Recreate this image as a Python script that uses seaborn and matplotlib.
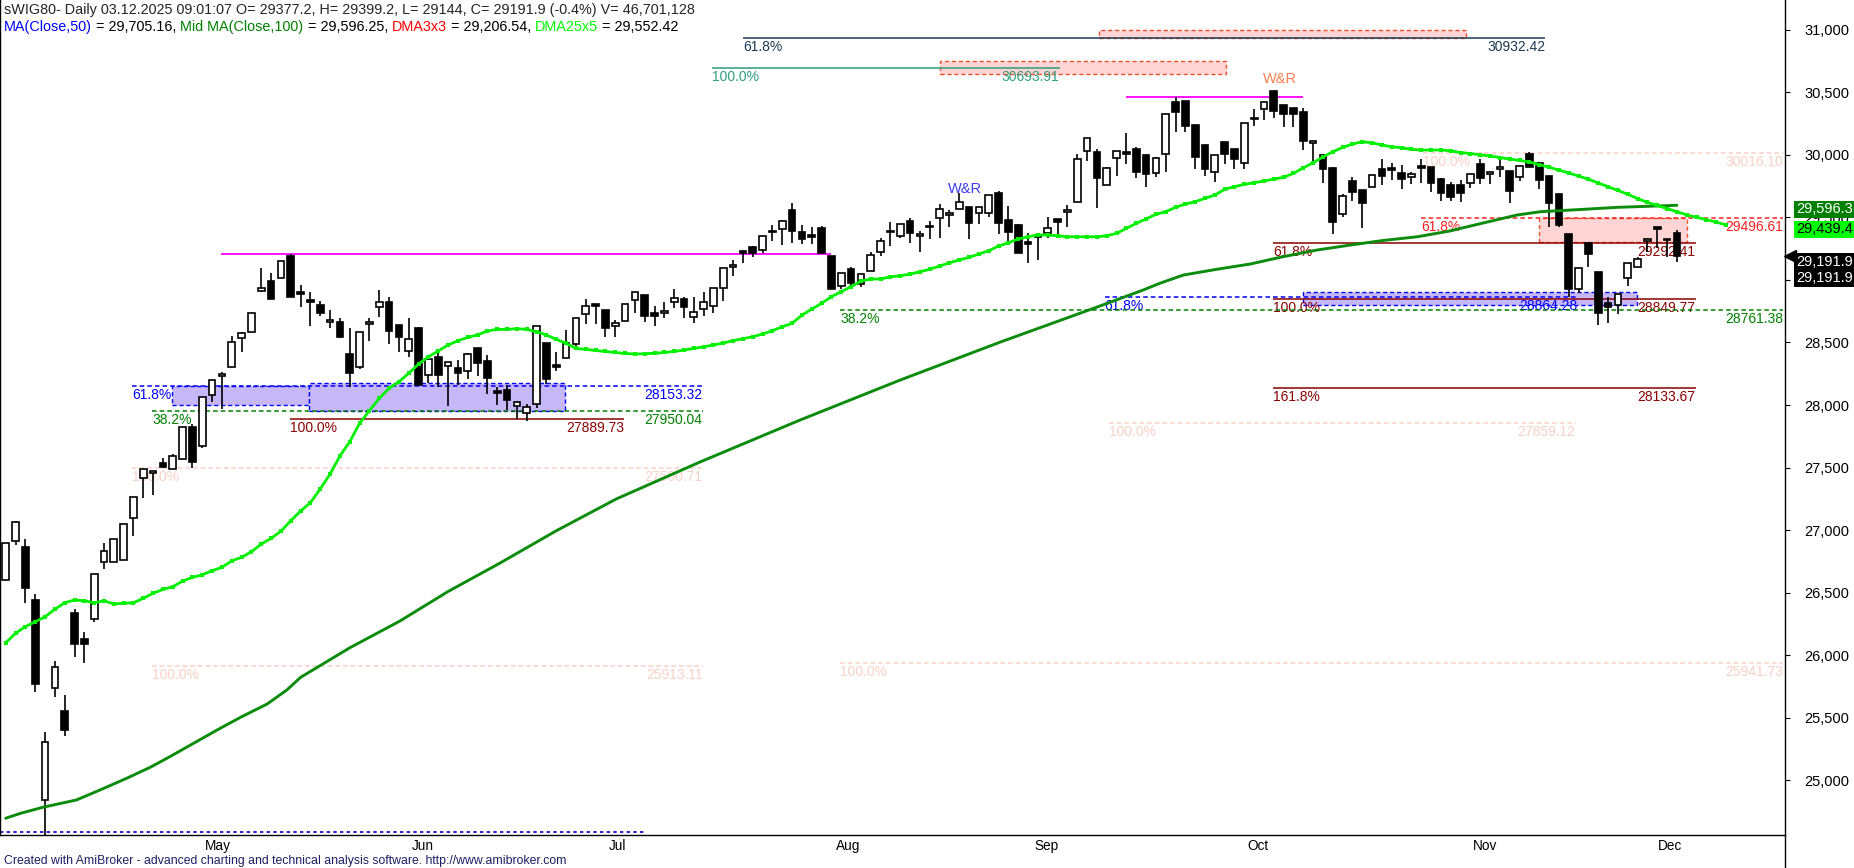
import numpy as np
import pandas as pd
import matplotlib
matplotlib.use("Agg")
import matplotlib.pyplot as plt
import matplotlib.transforms as mtrans
from matplotlib.patches import Rectangle
from matplotlib.lines import Line2D
import seaborn as sns

# ---- daily candles, bar 0 = 1 Apr 2025, last bar = 3 Dec 2025 ----
opens = [26602, 26916, 26868, 26442, 24844, 25736, 25557, 26338, 26130, 26288,
         26743, 26743, 26759, 27095, 27414, 27455, 27534, 27486, 27566, 27822,
         27675, 28078, 28232, 28301, 28533, 28581, 28914, 28991, 29013, 29191,
         28898, 28830, 28799, 28663, 28661, 28405, 28301, 28645, 28781, 28821,
         28637, 28434, 28613, 28238, 28384, 28312, 28293, 28272, 28453, 28352,
         28105, 28120, 27995, 27934, 28006, 28493, 28310, 28373, 28488, 28727,
         28797, 28757, 28631, 28669, 28837, 28879, 28733, 28733, 28826, 28845,
         28706, 28770, 28794, 28933, 29101, 29228, 29260, 29236, 29388, 29404,
         29558, 29383, 29352, 29415, 29191, 28951, 29085, 28967, 29071, 29225,
         29390, 29351, 29468, 29351, 29420, 29492, 29516, 29564, 29580, 29532,
         29532, 29692, 29479, 29439, 29300, 29340, 29372, 29484, 29545, 29625,
         30032, 30020, 29758, 29972, 30024, 30046, 29998, 29852, 30004, 30419,
         30429, 30238, 30075, 29860, 30099, 30048, 29932, 30296, 30363, 30509,
         30397, 30376, 30344, 30094, 29996, 29892, 29524, 29790, 29718, 29740,
         29886, 29888, 29852, 29825, 29902, 29900, 29806, 29761, 29758, 29772,
         29926, 29846, 29890, 29872, 29820, 30006, 29932, 29830, 29686, 29367,
         28925, 29292, 29065, 28818, 28799, 29013, 29105, 29311, 29416, 29327,
         29377.2]
highs = [26895, 27070, 26927, 26487, 25385, 25955, 25683, 26370, 26186, 26647,
         26895, 26927, 27047, 27263, 27486, 27475, 27574, 27609, 27822, 27848,
         28062, 28198, 28264, 28552, 28586, 28733, 29093, 29053, 29153, 29204,
         28959, 28906, 28831, 28759, 28693, 28613, 28581, 28693, 28919, 28861,
         28637, 28693, 28626, 28365, 28418, 28346, 28360, 28418, 28453, 28400,
         28146, 28160, 28030, 28008, 28631, 28493, 28421, 28600, 28693, 28845,
         28800, 28757, 28679, 28805, 28901, 28879, 28791, 28826, 28925, 28861,
         28861, 28901, 28933, 29093, 29159, 29230, 29271, 29348, 29439, 29480,
         29617, 29439, 29420, 29431, 29191, 29053, 29101, 29045, 29225, 29332,
         29465, 29444, 29492, 29391, 29473, 29604, 29558, 29692, 29580, 29580,
         29676, 29713, 29590, 29447, 29372, 29372, 29500, 29490, 29598, 30006,
         30131, 30043, 29905, 30030, 30176, 30064, 29998, 29984, 30323, 30459,
         30429, 30238, 30075, 29996, 30099, 30048, 30251, 30363, 30419, 30509,
         30397, 30376, 30371, 30110, 30006, 29905, 29686, 29820, 29718, 29838,
         29964, 29936, 29918, 29864, 29966, 29900, 29817, 29780, 29798, 29844,
         29964, 29864, 29972, 29872, 29910, 30022, 29945, 29830, 29686, 29367,
         29093, 29300, 29065, 28866, 28885, 29133, 29185, 29337, 29420, 29330,
         29399.2]
lows = [26602, 26881, 26420, 25704, 24450, 25664, 25358, 25989, 25941, 26269,
        26687, 26743, 26759, 26956, 27260, 27281, 27500, 27486, 27566, 27494,
        27654, 28027, 27966, 28301, 28421, 28581, 28906, 28845, 29013, 28866,
        28786, 28631, 28711, 28613, 28533, 28142, 28285, 28514, 28706, 28488,
        28426, 28381, 28150, 28174, 28142, 27995, 28160, 28206, 28234, 28086,
        28000, 27960, 27886, 27875, 27974, 28168, 28275, 28373, 28440, 28645,
        28645, 28541, 28541, 28669, 28733, 28666, 28634, 28693, 28773, 28693,
        28658, 28714, 28738, 28834, 29033, 29132, 29180, 29217, 29313, 29279,
        29297, 29287, 29287, 29217, 28925, 28925, 28951, 28941, 29071, 29193,
        29273, 29332, 29292, 29225, 29324, 29332, 29420, 29564, 29324, 29447,
        29500, 29364, 29305, 29217, 29137, 29159, 29332, 29340, 29425, 29625,
        29952, 29572, 29758, 29830, 29926, 29817, 29740, 29820, 29864, 30179,
        30184, 29884, 29830, 29780, 29924, 29884, 29884, 30232, 30278, 30291,
        30219, 30219, 30038, 29952, 29772, 29364, 29505, 29633, 29412, 29740,
        29758, 29798, 29724, 29764, 29772, 29702, 29633, 29633, 29625, 29732,
        29766, 29766, 29825, 29612, 29793, 29900, 29724, 29425, 29425, 28866,
        28893, 29105, 28639, 28653, 28725, 28951, 29105, 29225, 29252, 29180,
        29144]
closes = [26895, 27065, 26540, 25768, 25310, 25904, 25401, 26093, 26093, 26647,
          26831, 26927, 27047, 27263, 27486, 27467, 27507, 27590, 27822, 27547,
          28062, 28198, 28248, 28501, 28573, 28733, 28933, 28845, 29153, 28866,
          28887, 28822, 28738, 28679, 28546, 28258, 28581, 28661, 28821, 28594,
          28546, 28525, 28160, 28365, 28242, 28346, 28253, 28405, 28333, 28214,
          28098, 28040, 28022, 27987, 28631, 28206, 28304, 28493, 28693, 28794,
          28795, 28613, 28653, 28805, 28901, 28714, 28714, 28749, 28853, 28786,
          28741, 28821, 28933, 29093, 29117, 29218, 29212, 29348, 29380, 29471,
          29393, 29327, 29345, 29217, 28925, 29053, 28977, 29045, 29199, 29313,
          29380, 29444, 29377, 29367, 29425, 29564, 29532, 29620, 29457, 29580,
          29676, 29452, 29385, 29217, 29284, 29346, 29412, 29465, 29548, 29964,
          30131, 29812, 29892, 30030, 30006, 29860, 29844, 29972, 30323, 30344,
          30232, 29984, 29888, 29996, 30006, 29968, 30251, 30283, 30419, 30352,
          30323, 30323, 30107, 30110, 29884, 29465, 29670, 29705, 29612, 29838,
          29830, 29882, 29809, 29844, 29896, 29777, 29692, 29665, 29692, 29844,
          29812, 29850, 29894, 29713, 29910, 29900, 29798, 29612, 29439, 28925,
          29093, 29204, 28733, 28781, 28885, 29133, 29165, 29327, 29408, 29316,
          29191.9]

# DMA25x5 (displaced 5 bars, so it runs to bar 175)
dma25 = [26100, 26176, 26229, 26268, 26308, 26368, 26420, 26442, 26436, 26420,
         26436, 26410, 26416, 26420, 26456, 26496, 26527, 26548, 26594, 26623,
         26644, 26676, 26703, 26756, 26783, 26828, 26889, 26935, 26992, 27076,
         27153, 27220, 27330, 27449, 27593, 27707, 27854, 27955, 28054, 28134,
         28186, 28254, 28328, 28386, 28432, 28480, 28514, 28541, 28560, 28592,
         28605, 28605, 28610, 28605, 28586, 28560, 28525, 28493, 28453, 28445,
         28436, 28428, 28420, 28412, 28408, 28410, 28414, 28420, 28428, 28440,
         28452, 28466, 28480, 28496, 28515, 28530, 28546, 28568, 28594, 28626,
         28653, 28719, 28767, 28813, 28866, 28906, 28946, 28990, 29007, 29007,
         29025, 29033, 29047, 29065, 29085, 29111, 29137, 29159, 29180, 29207,
         29233, 29271, 29297, 29327, 29345, 29359, 29359, 29353, 29345, 29345,
         29345, 29345, 29353, 29372, 29412, 29452, 29487, 29524, 29545, 29580,
         29606, 29625, 29652, 29678, 29724, 29745, 29764, 29777, 29790, 29806,
         29820, 29852, 29896, 29936, 29984, 30024, 30059, 30086, 30104, 30096,
         30078, 30064, 30056, 30043, 30038, 30038, 30038, 30032, 30018, 30010,
         30000, 29990, 29978, 29966, 29955, 29942, 29922, 29900, 29878, 29855,
         29830, 29805, 29775, 29745, 29715, 29685, 29650, 29620, 29595, 29570,
         29545, 29520, 29500, 29482, 29462, 29439.4]

# Mid MA(Close,100)
ma100_x = [0, 1.5, 3.8, 7.2, 9.6, 12.3, 14.7, 16.4, 18.8, 21.5, 23.9, 26.6, 28.6, 30.0,
           35.0, 40.1, 45.0, 50.3, 56.0, 62.1, 70.6, 80.8, 91.0, 101.2, 111.3, 115.7,
           117.4, 119.8, 123.2, 126.6, 129.9, 133.4, 136.8, 140.1, 143.6, 146.9, 150.3,
           153.7, 156.1, 160.5, 163.9, 170]
ma100_y = [24698, 24737, 24786, 24844, 24924, 25017, 25105, 25177, 25283, 25403, 25505,
           25611, 25723, 25824, 26060, 26274, 26510, 26738, 26995, 27249, 27544, 27880,
           28200, 28504, 28791, 28919, 28973, 29039, 29085, 29127, 29185, 29239, 29279,
           29315, 29345, 29391, 29455, 29518, 29545, 29564, 29580, 29596.25]

months = ["May", "Jun", "Jul", "Aug", "Sep", "Oct", "Nov", "Dec"]
month_pos = [20.1, 41.1, 61.2, 84.3, 104.4, 126.1, 149.0, 167.9]

# fibo / study levels drawn on the chart
lvl_price = [30932.42, 30693.91, 28153.32, 27950.04, 27889.73, 27500.71, 25913.11,
             25941.73, 27859.12, 30016.10, 29496.61, 29292.41, 28849.77, 28133.67,
             28864.28, 28761.38]
lvl_left = ["61.8%", "100.0%", "61.8%", "38.2%", "100.0%", "100.0%", "100.0%",
            "100.0%", "100.0%", "100.0%", "61.8%", "61.8%", "100.0%", "161.8%",
            "61.8%", "38.2%"]
lvl_start = [75.0, 71.85, 12.85, 14.9, 28.9, 12.85, 14.9, 84.9, 112.2, 144.2, 144.0,
             128.9, 128.9, 128.9, 111.8, 84.9]
lvl_end = [156.6, 107.2, 70.9, 70.9, 62.9, 70.9, 70.9, 180.8, 159.7, 180.8, 180.8,
           171.9, 171.9, 171.9, 159.9, 180.8]

# shaded zones: (bar from, bar to, price low, price high)
purple_zones = [(16.9, 30.9, 28000, 28154), (30.9, 56.9, 27955, 28174),
                (132.0, 165.95, 28799, 28901)]
pink_zones = [(111.2, 148.5, 30934, 31000), (95.0, 124.1, 30645, 30749),
              (156.0, 171.0, 29300, 29497)]

# horizontal swing lines
magenta_lines = [(21.9, 84.0, 29204), (114.0, 132.0, 30459)]
bottom_line = (-0.58, 64.9, 24588)

# ------------------------------------------------------------------
W, H = 1854, 868
sns.set_style("white")
plt.rcParams['font.family'] = ['Liberation Sans', 'DejaVu Sans']

fig = plt.figure(figsize=(W / 100, H / 100), dpi=100)
ax = fig.add_axes([0, 33 / H, 1785 / W, 835 / H])
ax.set_xlim(-0.58, 181.0)
ax.set_ylim(24564, 31237)

FAINT = "#F9D0C6"
DRED = "#8B0000"
styles = [("#1B3A55", "-"), ("#2E9E7C", "-"), ("#0000FF", (0, (3, 2))),
          ("#008000", (0, (3, 2))), (DRED, "-"), (FAINT, (0, (3, 2))),
          (FAINT, (0, (3, 2))), (FAINT, (0, (3, 2))), (FAINT, (0, (3, 2))),
          (FAINT, (0, (3, 2))), ("#FF2020", (0, (3, 2))), (DRED, "-"), (DRED, "-"),
          (DRED, "-"), ("#0000FF", (0, (3, 2))), ("#008000", (0, (3, 2)))]

# zones
for x0, x1, lo, hi in purple_zones:
    ax.add_patch(Rectangle((x0, lo), x1 - x0, hi - lo, facecolor="#C6B8F8",
                           edgecolor="#0000FF", linestyle=(0, (3, 2)), lw=1, zorder=1))
for x0, x1, lo, hi in pink_zones:
    ax.add_patch(Rectangle((x0, lo), x1 - x0, hi - lo, facecolor="#FFD4D4",
                           edgecolor="#F05030", linestyle=(0, (3, 2)), lw=1, zorder=1))

# levels with labels under the line
below = mtrans.offset_copy(ax.transData, fig=fig, y=-2, units='dots')
for p, lab, x0, x1, (col, ls) in zip(lvl_price, lvl_left, lvl_start, lvl_end, styles):
    ax.hlines(p, x0, x1, colors=col, linestyles=ls, lw=1.1, zorder=2)
    ax.text(x0, p, lab, color=col, fontsize=10, ha='left', va='top', transform=below, zorder=2)
    ax.text(x1, p, f"{p:.2f}", color=col, fontsize=10, ha='right', va='top',
            transform=below, zorder=2)

for x0, x1, p in magenta_lines:
    ax.hlines(p, x0, x1, colors="#FF00FF", lw=1.3, zorder=2)
ax.hlines(bottom_line[2], bottom_line[0], bottom_line[1], colors="#0000CC",
          linestyles=(0, (2, 2)), lw=1.2, zorder=2)

# candles
df = pd.DataFrame({'o': opens, 'h': highs, 'l': lows, 'c': closes})
df['i'] = np.arange(len(df))
up = df['c'] >= df['o']
ax.vlines(df['i'], df['l'], df['h'], color='black', lw=1.2, zorder=4)
body_lo = np.minimum(df['o'], df['c'])
body_h = np.maximum((df['c'] - df['o']).abs(), 14)
ax.bar(df['i'], body_h, bottom=body_lo, width=0.68,
       color=np.where(up, 'white', 'black'), edgecolor='black', linewidth=1.2, zorder=5)

# moving averages
ma = pd.DataFrame({'x': ma100_x, 'y': ma100_y})
sns.lineplot(data=ma, x='x', y='y', ax=ax, color="#0C8C0C", linewidth=2.1, zorder=6)
dm = pd.DataFrame({'x': np.arange(len(dma25)), 'y': dma25})
sns.lineplot(data=dm, x='x', y='y', ax=ax, color="#00F000", linewidth=2.0,
             marker='s', markersize=3.2, markeredgewidth=0, zorder=6)
ax.set_xlabel("")
ax.set_ylabel("")

# W&R tags
ax.text(97.6, 29726, "W&R", color="#3C3CF0", fontsize=10.5, ha='center', va='center', zorder=7)
ax.text(129.6, 30605, "W&R", color="#FF7F50", fontsize=10.5, ha='center', va='center', zorder=7)

# axes styling
for s in ['left', 'right', 'bottom']:
    ax.spines[s].set_visible(True)
    ax.spines[s].set_color('black')
    ax.spines[s].set_linewidth(1.0)
ax.spines['top'].set_visible(False)
ax.yaxis.tick_right()
ax.set_yticks(np.arange(25000, 31001, 500))
ax.set_yticklabels([f"{v:,}" for v in range(25000, 31001, 500)])
ax.tick_params(axis='y', direction='out', length=3.6, width=0.8, pad=10.5,
               labelsize=10.5, colors='black', left=False, right=True)
ax.set_xticks(month_pos)
ax.set_xticklabels([])
ax.tick_params(axis='x', direction='out', length=8, width=0.8, colors='black')
bx = mtrans.blended_transform_factory(ax.transData, ax.transAxes)
for m, xp in zip(months, month_pos):
    ax.text(xp + 0.2, -0.005, m, transform=bx, fontsize=9.8, ha='left', va='top',
            color='black', clip_on=False)
fig.add_artist(Line2D([1785 / W] * 2, [0, 33 / H], color='black', lw=1.0,
                      transform=fig.transFigure))

# value tags on the price axis
def tag(price, text, fc, tc, dy):
    ax.annotate(text, xy=(1, price), xycoords=('axes fraction', 'data'),
                xytext=(11, dy), textcoords='offset pixels', va='center', ha='left',
                fontsize=10.5, color=tc, annotation_clip=False, zorder=10,
                bbox=dict(boxstyle='square,pad=0.12', fc=fc, ec='none'))

tag(29596.25, "29,596.3", "#008000", "white", -4)
tag(29439.4, "29,439.4", "#00FF00", "black", -4.5)
tag(29191.9, "29,191.9", "black", "white", -6)
tag(29191.9, "29,191.9", "black", "white", -22)
ax.plot([1 + 5 / 1785], [29191.9], marker='<', markersize=8, color='black',
        transform=mtrans.blended_transform_factory(ax.transAxes, ax.transData),
        clip_on=False, zorder=10)

# header
fig.text(4 / W, 1 - 10 / H,
         "sWIG80- Daily 03.12.2025 09:01:07 O= 29377.2, H= 29399.2, L= 29144, "
         "C= 29191.9 (-0.4%) V= 46,701,128", fontsize=10.4, va='center', ha='left')
renderer = fig.canvas.get_renderer()
parts = [("MA(Close,50)", "#0000FF"), (" = 29,705.16, ", "black"),
         ("Mid MA(Close,100)", "#008000"), (" = 29,596.25, ", "black"),
         ("DMA3x3", "#FF0000"), (" = 29,206.54, ", "black"),
         ("DMA25x5", "#00FF00"), (" = 29,552.42", "black")]
xpix = 4
for s, c in parts:
    t = fig.text(xpix / W, 1 - 27 / H, s, color=c, fontsize=10.4, va='center', ha='left')
    xpix += t.get_window_extent(renderer=renderer).width

fig.text(4 / W, 1 - 861 / H,
         "Created with AmiBroker - advanced charting and technical analysis software. "
         "http://www.amibroker.com", fontsize=8.85, color="#1E1E66", va='center', ha='left')

fig.savefig("out.png", dpi=100)
